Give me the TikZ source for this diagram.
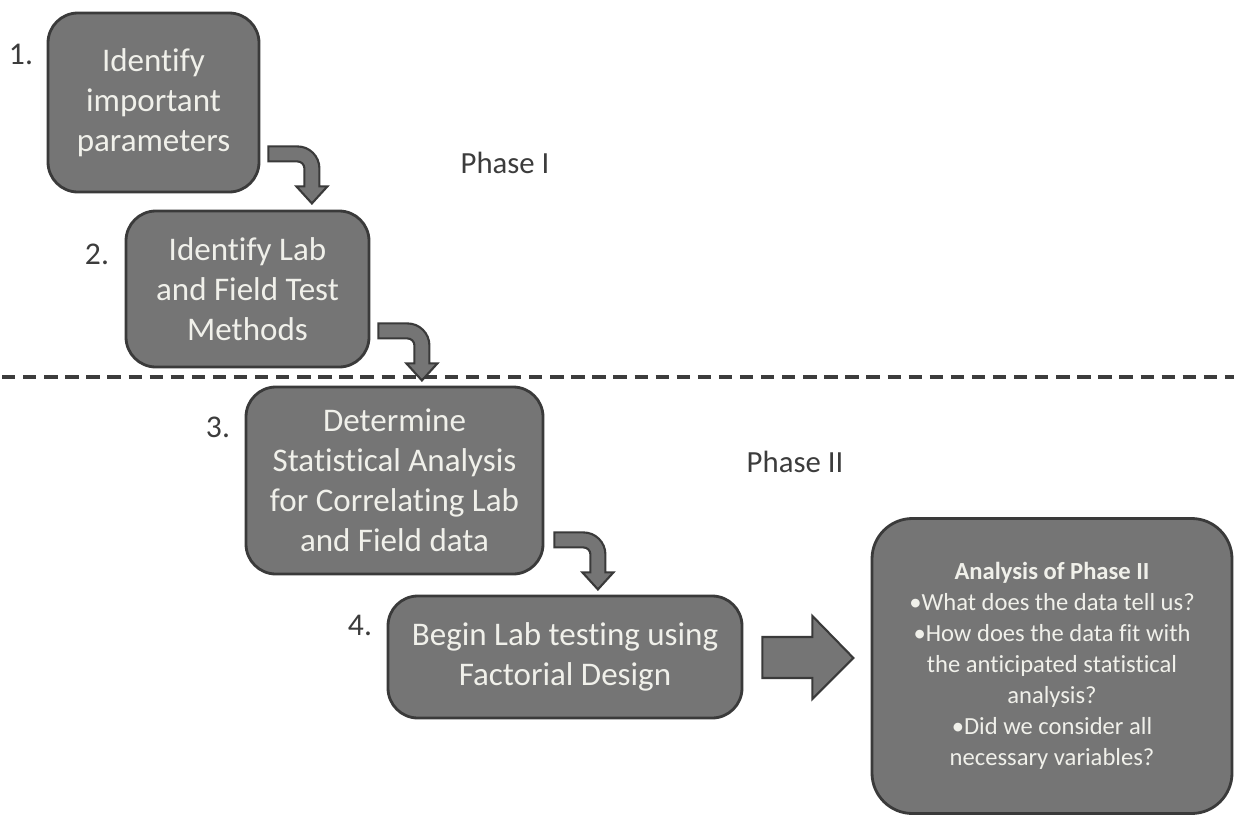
\documentclass[tikz,border=0pt]{standalone}
\usepackage{fontspec}
\setmainfont{Carlito}[Ligatures=NoCommon]
\usetikzlibrary{positioning}
\definecolor{boxgrey}{RGB}{117,117,117}
\definecolor{edgegrey}{RGB}{58,58,58}
\definecolor{labelgrey}{RGB}{60,60,60}
\definecolor{paletext}{RGB}{240,240,234}
\tikzset{
  stepbox/.style={draw=edgegrey, line width=1.6pt, fill=boxgrey, rounded corners=17pt,
    align=center, text=paletext, font=\fontsize{18.8}{22.7}\selectfont, inner sep=0pt},
  numlabel/.style={text=labelgrey, font=\fontsize{18}{21}\selectfont},
  phaselabel/.style={text=labelgrey, font=\fontsize{17.5}{21}\selectfont},
  blockarrow/.style={draw=edgegrey, line width=1.2pt, fill=boxgrey, line join=miter}
}
% bent arrow from the right side of one step down to the next
\newcommand{\bendarrow}[1]{%
  \draw[blockarrow, shift={(#1)}] (0,0) -- (29,0) .. controls (41.15,0) and (51,9.85) .. (51,22)
    -- (51,40) -- (59,40) -- (43.5,57) -- (28,40) -- (36,40) -- (36,22)
    .. controls (36,18.13) and (32.87,15) .. (29,15) -- (0,15) -- cycle;}
\begin{document}
\begin{tikzpicture}[x=0.02cm, y=-0.02cm]
\useasboundingbox (0,0) rectangle (1234,815);

% Phase I steps
\node[stepbox, minimum width=211*0.02cm, minimum height=179*0.02cm] (b1) at (153.5,102.5)
  {Identify\\important\\parameters};
\node[stepbox, minimum width=243*0.02cm, minimum height=156*0.02cm] (b2) at (247.5,289)
  {Identify Lab\\and Field Test\\Methods};
\node[numlabel] (n1) at (21,54) {1.};
\node[numlabel] (n2) at (97,254) {2.};
\node[phaselabel] (p1) at (505,163) {Phase I};

% border between the phases
\draw[labelgrey, line width=2pt, dash pattern=on 7.6pt off 4.4pt] (2,377) -- (1234,377);

% Phase II steps
\node[stepbox, minimum width=297*0.02cm, minimum height=187*0.02cm] (b3) at (394.5,480.5)
  {Determine\\Statistical Analysis\\for Correlating Lab\\and Field data};
\node[stepbox, minimum width=354*0.02cm, minimum height=122*0.02cm] (b4) at (565,657)
  {Begin Lab testing using\\Factorial Design};
\node[stepbox, rounded corners=23pt, minimum width=360*0.02cm, minimum height=295*0.02cm,
  font=\fontsize{14}{17.6}\selectfont] (b5) at (1052,666)
  {\textbf{Analysis of Phase II}\\•What does the data tell us?\\•How does the data fit with\\the anticipated statistical\\analysis?\\•Did we consider all\\necessary variables?};
\node[numlabel] (n3) at (218,427) {3.};
\node[numlabel] (n4) at (360,625) {4.};
\node[phaselabel] (p2) at (795,462) {Phase II};

% arrows between the steps
\coordinate (a1) at ([shift={(8,-47)}]b1.south east);
\coordinate (a2) at ([shift={(8,-45)}]b2.south east);
\coordinate (a3) at ([shift={(10,-43)}]b3.south east);
\coordinate (a4) at ([shift={(19,1)}]b4.east);
\bendarrow{a1}
\bendarrow{a2}
\bendarrow{a3}
\draw[blockarrow, shift={(a4)}] (0,-21) -- (50,-21) -- (50,-42) -- (91,0) -- (50,41)
  -- (50,20) -- (0,20) -- cycle;
\end{tikzpicture}
\end{document}
